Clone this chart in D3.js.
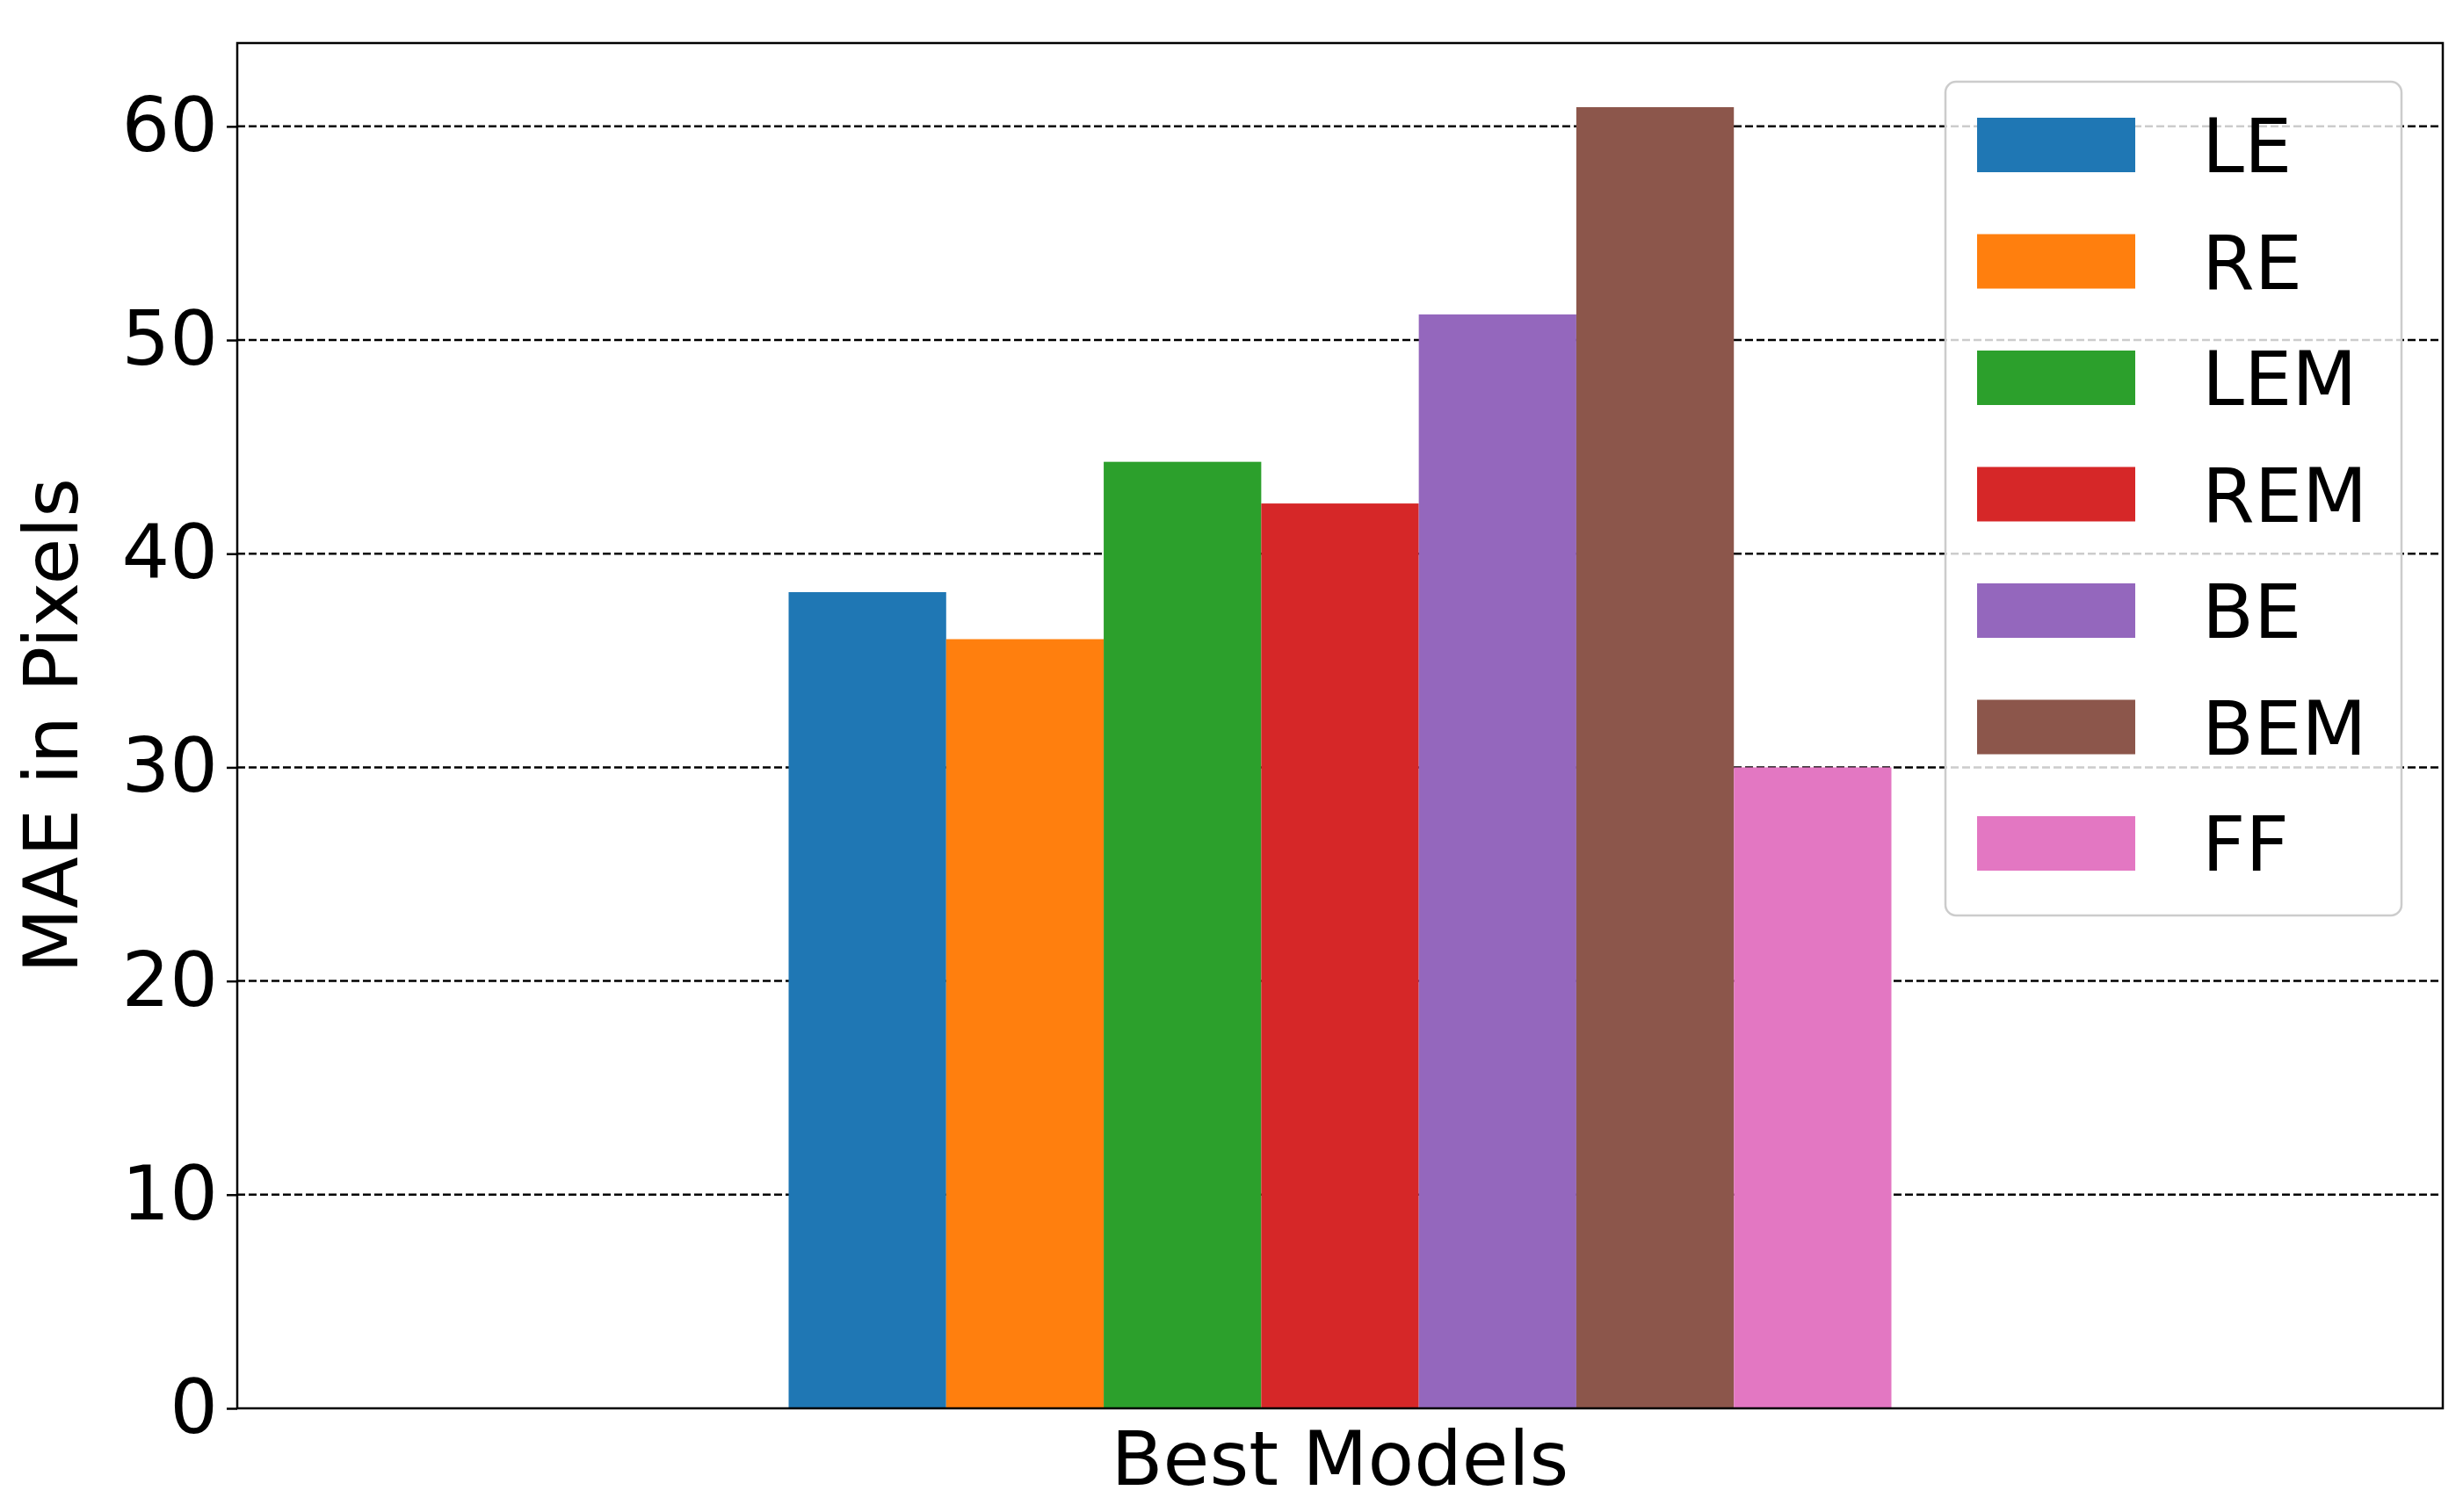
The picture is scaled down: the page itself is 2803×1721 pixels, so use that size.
<!DOCTYPE html>
<html><head><meta charset="utf-8">
<script src="https://cdn.jsdelivr.net/npm/d3@7"></script>
<style>body{margin:0;background:#fff}</style>
</head><body><div class="canvas"></div>
<script>
const labels = ['LE','RE','LEM','REM','BE','BEM','FF'];
const values = [38.2, 36.0, 44.3, 42.35, 51.2, 60.9, 30.0];
const colors = ['#1f77b4','#ff7f0e','#2ca02c','#d62728','#9467bd','#8c564b','#e377c2'];
const yTicks = [0,10,20,30,40,50,60];

const W = 2803, H = 1721;
const margin = {top:49, left:270, right:W-2780, bottom:H-1603};
const graphWidth = W - margin.left - margin.right;
const graphHeight = H - margin.top - margin.bottom;
const FONT = 'DejaVu Sans';

const svg = d3.select('.canvas').append('svg')
    .attr('width', W).attr('height', H);
const graph = svg.append('g')
    .attr('transform', `translate(${margin.left},${margin.top})`);

const y = d3.scaleLinear().domain([0, 63.9]).range([graphHeight, 0]);
// bars take up the middle half of the axis
const x = d3.scaleBand().domain(labels)
    .range([graphWidth * 0.25, graphWidth * 0.75]).padding(0);

// dashed grid
graph.selectAll('.grid').data(yTicks.filter(d => d > 0)).enter()
  .append('line')
    .attr('x1', 0).attr('x2', graphWidth)
    .attr('y1', d => y(d)).attr('y2', d => y(d))
    .attr('stroke', '#000').attr('stroke-width', 2.5)
    .attr('stroke-dasharray', '9,4');

graph.selectAll('rect.bar').data(values).enter()
  .append('rect')
    .attr('class', 'bar')
    .attr('x', (d,i) => x(labels[i]))
    .attr('width', x.bandwidth())
    .attr('y', d => y(d))
    .attr('height', d => graphHeight - y(d))
    .attr('fill', (d,i) => colors[i]);

// frame
graph.append('rect')
    .attr('width', graphWidth).attr('height', graphHeight)
    .attr('fill', 'none').attr('stroke', '#000').attr('stroke-width', 2.5);

const yAxis = graph.append('g')
    .call(d3.axisLeft(y).tickValues(yTicks).tickSize(12).tickPadding(10));
yAxis.select('.domain').remove();
yAxis.selectAll('line').attr('stroke-width', 2.5);
yAxis.selectAll('text').attr('font-family', FONT).attr('font-size', 86).attr('fill', '#000');

svg.append('text')
    .attr('x', margin.left + graphWidth / 2).attr('y', 1690)
    .attr('text-anchor', 'middle')
    .attr('font-family', FONT).attr('font-size', 86)
    .text('Best Models');

svg.append('text')
    .attr('transform', `translate(88,${margin.top + graphHeight / 2}) rotate(-90)`)
    .attr('text-anchor', 'middle')
    .attr('font-family', FONT).attr('font-size', 86)
    .text('MAE in Pixels');

// legend
const legend = svg.append('g');
legend.append('rect')
    .attr('x', 2214).attr('y', 93).attr('width', 519).attr('height', 949)
    .attr('rx', 12).attr('fill', '#fff').attr('fill-opacity', 0.8)
    .attr('stroke', '#ccc').attr('stroke-width', 2.5);
const items = legend.selectAll('g.item').data(labels).enter()
  .append('g')
    .attr('transform', (d,i) => `translate(2250,${165 + i * 132.5})`);
items.append('rect')
    .attr('x', 0).attr('y', -31).attr('width', 180).attr('height', 62)
    .attr('fill', (d,i) => colors[i]);
items.append('text')
    .attr('x', 256).attr('y', 31)
    .attr('font-family', FONT).attr('font-size', 86)
    .text(d => d);
</script>
</body></html>
